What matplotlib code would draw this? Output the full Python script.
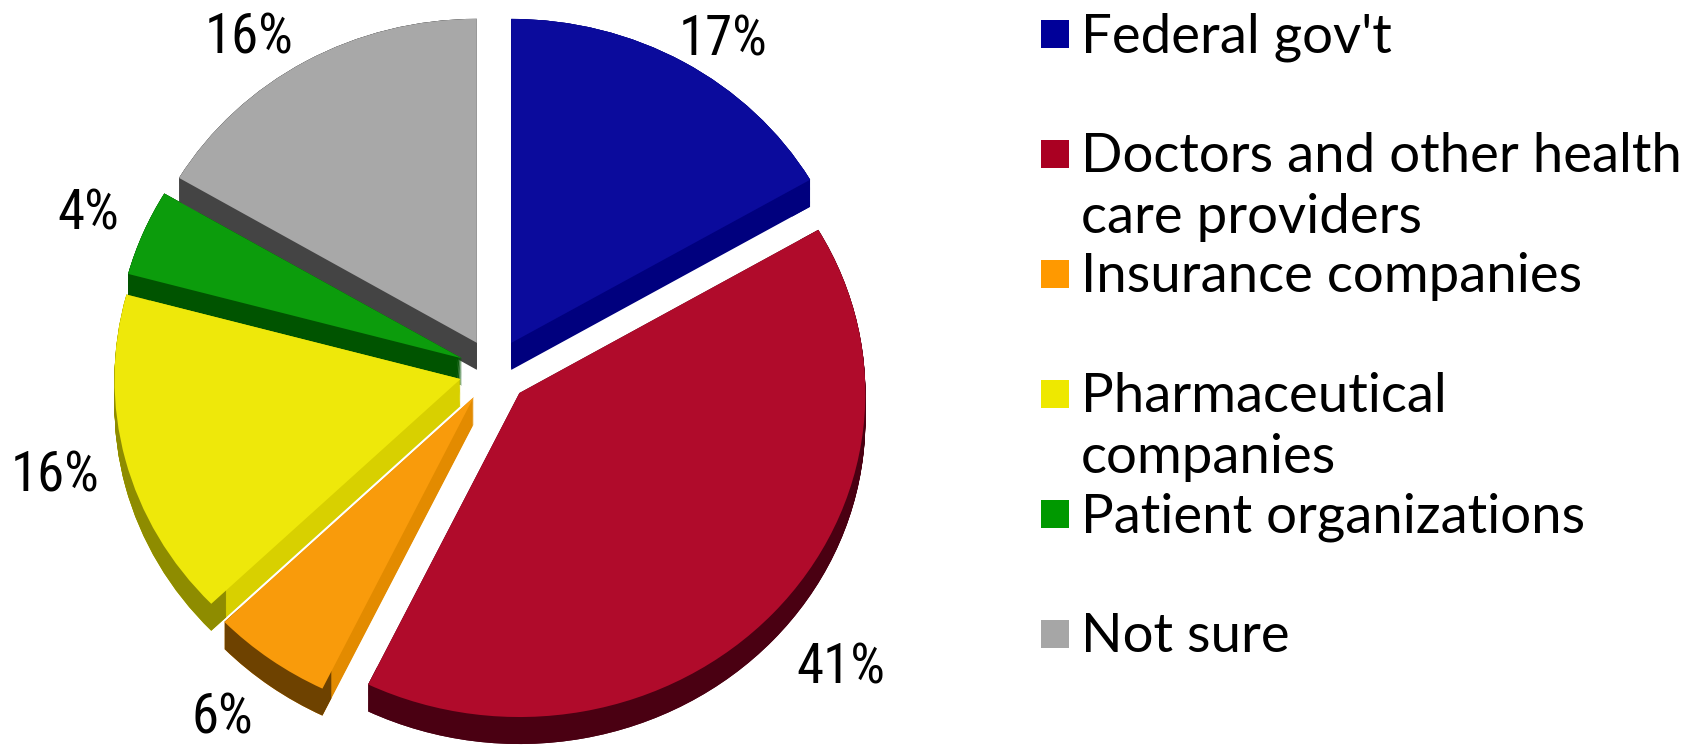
import numpy as np
import matplotlib
matplotlib.use("Agg")
import matplotlib.pyplot as plt
from matplotlib.patches import Rectangle
from matplotlib.font_manager import FontProperties, findfont
from matplotlib.textpath import TextPath

# ---------------- data ----------------
categories = ["Federal gov't", "Doctors and other health care providers",
              "Insurance companies", "Pharmaceutical companies",
              "Patient organizations", "Not sure"]
legend_lines = [["Federal gov't"], ["Doctors and other health", "care providers"],
                ["Insurance companies"], ["Pharmaceutical", "companies"],
                ["Patient organizations"], ["Not sure"]]
# shares (labels are rounded)
values = [16.6, 40.6, 5.6, 16.4, 4.3, 16.5]
pct_labels = ["17%", "41%", "6%", "16%", "4%", "16%"]

# ---------------- styles ----------------
face_colors = ['#0B0B9C', '#B00B2B', '#F99B0B', '#EEE80A', '#0C9C0C', '#A8A8A8']
side_colors = ['#00007E', '#4A0012', '#E38B00', '#D8D000', '#005400', '#444444']
rim_colors = ['#00007E', '#4A0012', '#6E4200', '#8E8C00', '#005400', '#444444']
legend_colors = ['#000099', '#AA0022', '#FF9900', '#EEE800', '#009900', '#A6A6A6']

W, H = 1682, 748
cx, cy = 494, 371          # pie centre (pixels, y down)
rx, ry = 346, 324          # pie radii in pixels (slight tilt)
depth_px = 27
explode = [0.1] * len(values)

fig = plt.figure(figsize=(W / 100, H / 100), dpi=100)
ax = fig.add_axes([0, 0, 1, 1])


def px(x, y):
    return (x - cx) / rx, (cy - y) / ry


pie_kw = dict(explode=explode, startangle=90, counterclock=False, radius=1.0)
depth = depth_px / ry
steps = np.linspace(depth, 0, 30)
for k in steps:
    ax.pie(values, colors=side_colors, center=(0, -k),
           wedgeprops=dict(linewidth=0, antialiased=True), **pie_kw)
for k in steps:
    ax.pie(values, colors=rim_colors, center=(0, -k),
           wedgeprops=dict(width=0.06, linewidth=0, antialiased=True), **pie_kw)
ax.pie(values, colors=face_colors, center=(0, 0),
       wedgeprops=dict(linewidth=0, antialiased=True), **pie_kw)

ax.set_aspect('auto')
ax.set_xlim(-cx / rx, (W - cx) / rx)
ax.set_ylim(-(H - cy) / ry, cy / ry)
ax.axis('off')


# ---------------- fonts ----------------
def font_file(fp):
    try:
        return findfont(fp, fallback_to_default=False)
    except Exception:
        return None


def fit(fp, text, width_px):
    w = TextPath((0, 0), text, size=100, prop=fp).get_extents().width
    return 100 * width_px / w * 72 / 100


def cap_size(fp, cap_px):
    cap = TextPath((0, 0), "H", size=100, prop=fp).get_extents().height / 100
    return cap_px / cap * 72 / 100


target_cap = 38.5
best = None
for fam in ['DejaVu Sans', 'Open Sans', 'Noto Sans', 'Lato']:
    f = FontProperties(family=fam)
    if font_file(f) is None:
        continue
    s = fit(f, "Doctors and other health", 592)
    c = TextPath((0, 0), "H", size=s * 100 / 72, prop=f).get_extents().height
    if best is None or abs(c - target_cap) < best[0]:
        best = (abs(c - target_cap), f, s)
fp = best[1]
fp.set_size(best[2])

# narrow face for the percentage labels, if one is installed
lp = None
for cand in [FontProperties(family='Liberation Sans Narrow'),
             FontProperties(family='Roboto Condensed'),
             FontProperties(family='DejaVu Sans', stretch='condensed'),
             FontProperties(family='Roboto', stretch='condensed')]:
    ff = font_file(cand)
    if ff and ('Narrow' in ff or 'Condensed' in ff):
        lp = cand
        break
if lp is None:
    lp = fp.copy()
lp.set_size(cap_size(lp, 39))

# ---------------- legend ----------------
text_x = 1081
for i, (lines, col) in enumerate(zip(legend_lines, legend_colors)):
    yc = 34 + 120 * i
    x0, y0 = px(1041, yc + 14)
    ax.add_patch(Rectangle((x0, y0), 28 / rx, 28 / ry, facecolor=col,
                           edgecolor='none'))
    for j, line in enumerate(lines):
        ax.text(*px(text_x, yc + 18 + 61 * j), line, fontproperties=fp,
                ha='left', va='baseline', color='black')

# ---------------- percentage labels ----------------
label_centers = [(723, 37), (841, 665), (222, 715), (55, 472), (88, 211), (249, 34)]
for lab, (lx, ly) in zip(pct_labels, label_centers):
    ax.text(*px(lx, ly + 19), lab, fontproperties=lp, ha='center',
            va='baseline', color='black')

fig.savefig("out.png", dpi=100, facecolor='white')
